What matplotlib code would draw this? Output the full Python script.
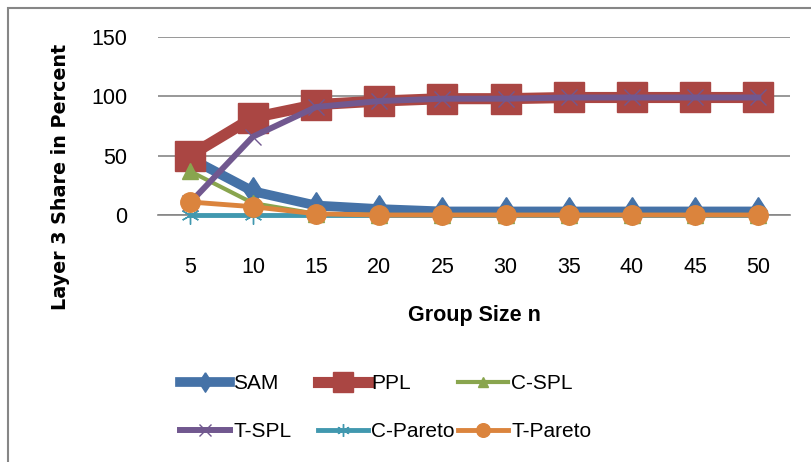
"""Layer 3 share versus group size, Excel-style line chart."""

import matplotlib

matplotlib.use("Agg")

import matplotlib.pyplot as plt
from matplotlib.patches import Rectangle

group_sizes = ["5", "10", "15", "20", "25", "30", "35", "40", "45", "50"]
sam = [48, 20, 8, 5, 3, 3, 3, 3, 3, 3]
ppl = [50, 82, 93, 96, 98, 98, 99, 99, 99, 99]
c_spl = [37, 10, 1, 0, 0, 0, 0, 0, 0, 0]
t_spl = [10, 66, 91, 96, 98, 98, 99, 99, 99, 99]
c_pareto = [0, 0, 0, 0, 0, 0, 0, 0, 0, 0]
t_pareto = [11, 7, 1, 0, 0, 0, 0, 0, 0, 0]

# Excel's diamond is taller than it is wide
_TALL_DIAMOND = [(0, 1), (0.65, 0), (0, -1), (-0.65, 0), (0, 1)]

# name, values, color, marker, marker size, line width, marker edge width
series = [
    ("SAM", sam, "#4572a7", _TALL_DIAMOND, 20, 7, 1),
    ("PPL", ppl, "#aa4643", "s", 21, 8, 1),
    ("C-SPL", c_spl, "#89a54e", "^", 11, 3, 1),
    ("T-SPL", t_spl, "#71588f", "x", 12, 4.3, 1),
    ("C-Pareto", c_pareto, "#4198af", (6, 2, 0), 13, 3.5, 1),
    ("T-Pareto", t_pareto, "#db843d", "o", 14, 3.5, 1),
]

plt.rcParams["font.family"] = ["Liberation Sans", "DejaVu Sans"]

fig = plt.figure(figsize=(8.11, 4.62), dpi=100, facecolor="white")
ax = fig.add_axes([0.195, 0.5346, 0.779, 0.3854])

x = list(range(len(group_sizes)))
lines = {}
for name, values, color, marker, ms, lw, mew in series:
    (line,) = ax.plot(x, values, color=color, linewidth=lw, marker=marker, markersize=ms,
                      markerfacecolor=color, markeredgecolor=color, markeredgewidth=mew,
                      label=name, clip_on=False, zorder=3)
    lines[name] = line

ax.set_xlim(-0.5, len(group_sizes) - 0.5)
ax.set_ylim(0, 150)
ax.set_yticks([0, 50, 100, 150])
ax.set_xticks(x)
ax.set_xticklabels(group_sizes)
ax.grid(axis="y", color="#868686", linewidth=1.2)
ax.set_axisbelow(True)
for side in ("top", "right", "left"):
    ax.spines[side].set_visible(False)
ax.spines["bottom"].set_color("#868686")
ax.spines["bottom"].set_linewidth(1.2)
ax.tick_params(length=0, labelsize=15.5, colors="black")
ax.tick_params(axis="x", pad=30)
ax.tick_params(axis="y", pad=22)

ax.set_xlabel("Group Size n", fontsize=15.5, fontweight="bold", labelpad=20)
ax.set_ylabel("Layer 3 Share in Percent", fontsize=13.8, fontweight="bold",
              family=["DejaVu Sans"], va="center")
ax.yaxis.set_label_coords((60 - 158) / 632, (215 - 177) / 178)

# Excel lays the legend out in fixed-width columns; one small legend per column
columns = [(["SAM", "T-SPL"], 180), (["PPL", "C-Pareto"], 318), (["C-SPL", "T-Pareto"], 458)]
for names, left in columns:
    fig.legend([lines[n] for n in names], names,
               loc="upper left", bbox_to_anchor=(left / 811, 1 - 374 / 462),
               frameon=False, fontsize=15, handlelength=2.4, labelspacing=1.4,
               handletextpad=0.15, borderpad=0, borderaxespad=0, markerscale=0.7)

fig.patches.append(Rectangle((8 / 811, -0.1), 1.2, 1 - 8 / 462 + 0.1,
                             transform=fig.transFigure, fill=False,
                             edgecolor="#868686", linewidth=1.5))

fig.savefig("out.png", dpi=100, facecolor=fig.get_facecolor())
